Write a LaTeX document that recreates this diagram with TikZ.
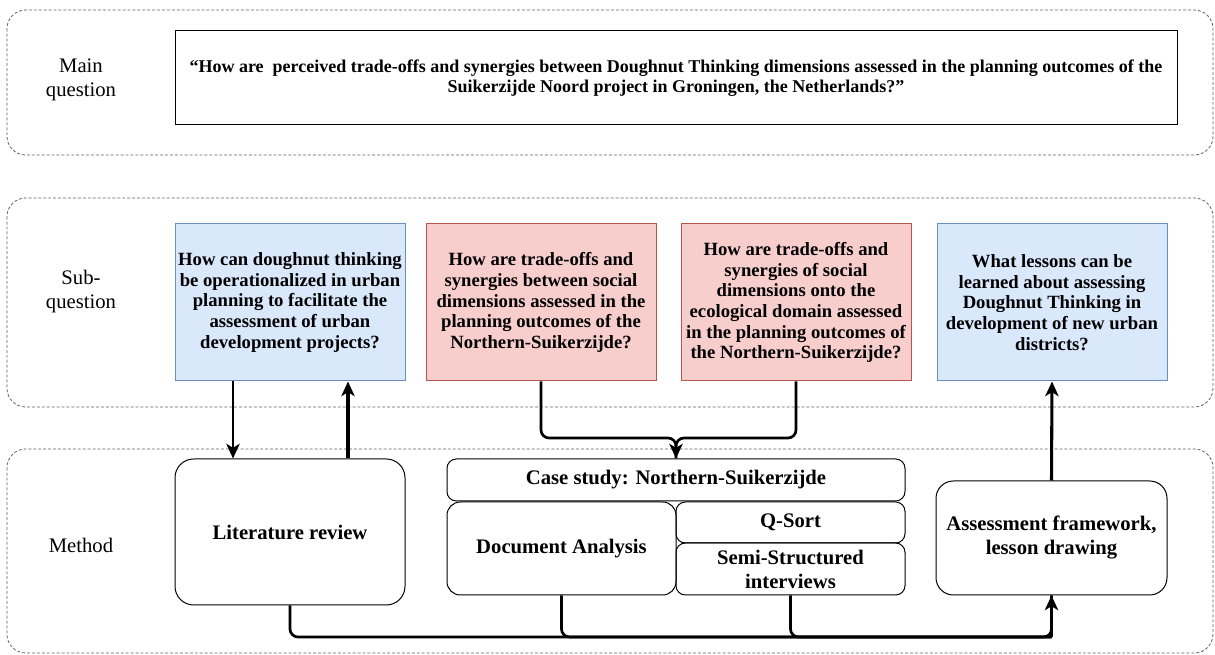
\documentclass[tikz,border=0pt]{standalone}
\usepackage{fontspec}
\setmainfont{Liberation Serif}
\usetikzlibrary{arrows.meta}
\definecolor{bluefill}{HTML}{DAE8FC}
\definecolor{blueline}{HTML}{6C8EBF}
\definecolor{redfill}{HTML}{F8CECC}
\definecolor{redline}{HTML}{B85450}
\definecolor{panelline}{HTML}{606060}
\tikzset{
  panel/.style={draw=panelline, line width=0.6pt, dash pattern=on 2.2pt off 1.5pt, rounded corners=14pt},
  sidelabel/.style={align=center, font=\fontsize{15.5}{18}\selectfont},
  qbox/.style={draw, line width=0.75pt, align=center, inner sep=1pt,
    minimum width=172.5pt, minimum height=117.75pt,
    font=\bfseries\fontsize{14}{15.5}\selectfont},
  bluebox/.style={qbox, draw=blueline, fill=bluefill},
  redbox/.style={qbox, draw=redline, fill=redfill},
  methbox/.style={draw, line width=0.75pt, rounded corners=7pt, align=center, inner sep=1pt,
    font=\bfseries\fontsize{15.5}{18}\selectfont},
  conn/.style={line width=2pt, rounded corners=6pt},
  tip/.style={-{Stealth[length=11pt,width=10pt,inset=3pt]}},
}
\begin{document}
\begin{tikzpicture}[x=0.75pt, y=-0.75pt]
\useasboundingbox (0,0) rectangle (1215,655);

% dashed row panels
\draw[panel] (7,10) rectangle (1213,155);
\draw[panel] (7,198) rectangle (1213,407);
\draw[panel] (7,449) rectangle (1213,653);

% row labels
\node[sidelabel] (lmain) at (81,80) {Main\\question};
\node[sidelabel] (lsub) at (81,292) {Sub-\\question};
\node[sidelabel] (lmeth) at (81,545) {Method};

% main question
\node[draw, line width=0.75pt, minimum width=751.5pt, minimum height=70.5pt, align=center,
  font=\bfseries\fontsize{13.5}{15}\selectfont] (mainq) at (676,78)
  {“How are\ \ perceived trade-offs and synergies between Doughnut Thinking dimensions assessed in the planning outcomes of the\\
   Suikerzijde Noord project in Groningen, the Netherlands?”};

% sub-questions
\node[bluebox] (b1) at (290,302.5)
  {How can doughnut thinking\\be operationalized in urban\\planning to facilitate the\\assessment of urban\\development projects?};
\node[redbox] (r1) at (541,302.5)
  {How are trade-offs and\\synergies between social\\dimensions assessed in the\\planning outcomes of the\\Northern-Suikerzijde?};
\node[redbox] (r2) at (796,302.5)
  {How are trade-offs and\\synergies of social\\dimensions onto the\\ecological domain assessed\\in the planning outcomes of\\the Northern-Suikerzijde?};
\node[bluebox] (b2) at (1052,302.5)
  {What lessons can be\\learned about assessing\\Doughnut Thinking in\\development of new urban\\districts?};

% methods
\node[methbox, minimum width=172.5pt, minimum height=109.5pt, rounded corners=14pt] (lit) at (290,532) {Literature review};
\node[methbox, minimum width=343.5pt, minimum height=31.5pt] (case) at (676,480) {Case study: Northern-Suikerzijde};
\node[methbox, minimum width=171.75pt, minimum height=69.75pt, rounded corners=10pt] (doc) at (561.5,548.5) {Document Analysis};
\node[methbox, minimum width=171.75pt, minimum height=30.75pt] (qs) at (790.5,522.5) {Q-Sort};
\node[methbox, minimum width=171.75pt, minimum height=39pt] (semi) at (790.5,569) {Semi-Structured\\interviews};
\node[methbox, minimum width=173.25pt, minimum height=85.5pt, rounded corners=13pt] (assess) at (1051.5,538) {Assessment framework,\\lesson drawing};

% literature review loop
\draw[conn, tip] (b1.south -| 233,0) -- (lit.north -| 233,0);
\draw[conn, tip, line width=2.3pt] (lit.north -| 348,0) -- (b1.south -| 348,0);

% the two case questions merge into the case study
\coordinate (merge) at (676,438);
\draw[conn] (r1.south) -- (r1.south |- merge) -- (merge) -- (case.north);
\draw[conn, tip] (r2.south) -- (r2.south |- merge) -- (merge) -- (case.north);

% all methods feed the assessment framework
\coordinate (base) at (0,637);
\draw[conn] (lit.south) -- (lit.south |- base) -- (assess.south |- base) -- (assess.south);
\draw[conn] (doc.south) -- (doc.south |- base) -- (assess.south |- base);
\draw[conn] (semi.south) -- (semi.south |- base) -- (assess.south |- base);
\draw[conn, tip] (assess.south |- base) -- (assess.south);

% assessment framework answers the last sub-question
\draw[conn, tip, line width=2.3pt] (assess.north) -- (b2.south);
\end{tikzpicture}
\end{document}
